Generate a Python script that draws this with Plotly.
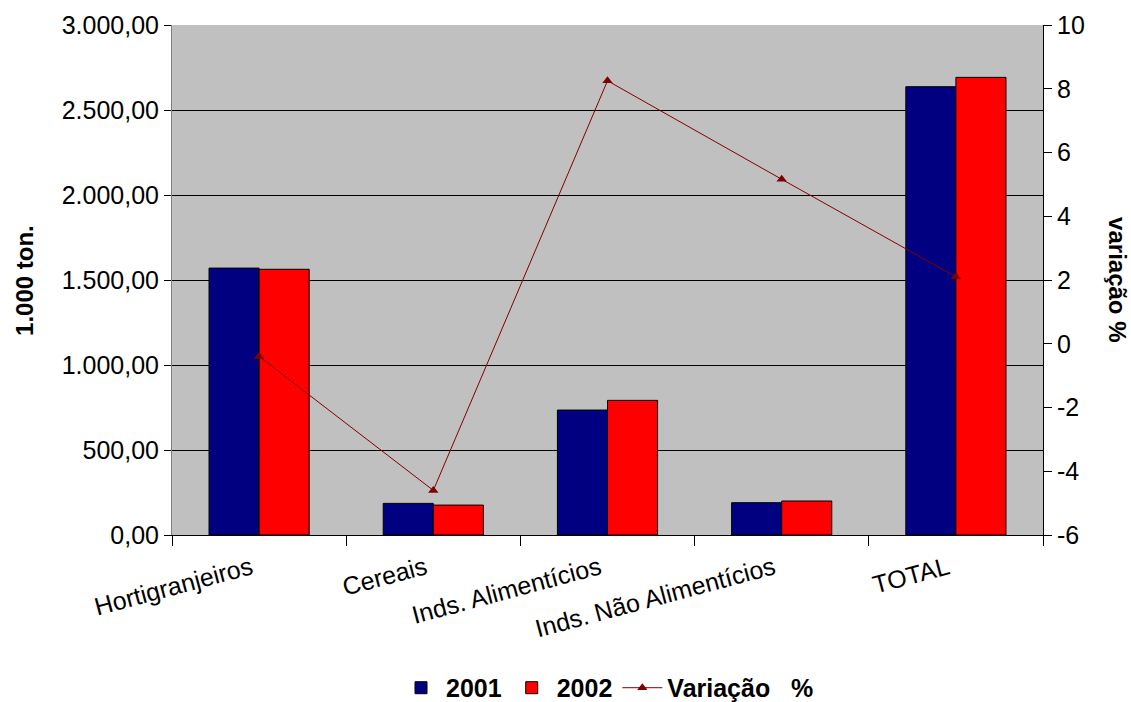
import plotly.graph_objects as go

categories = ["Hortigranjeiros", "Cereais", "Inds. Alimentícios", "Inds. Não Alimentícios", "TOTAL"]
values_2001 = [1570, 186, 735, 190, 2637]
values_2002 = [1563, 176, 792, 200, 2692]
variacao = [-0.4, -4.6, 8.25, 5.16, 2.1]
left_ticks = [0, 500, 1000, 1500, 2000, 2500, 3000]
right_ticks = [-6, -4, -2, 0, 2, 4, 6, 8, 10]
right_tick_labels = ["-6", "-4", "-2", "0", "2", "4", "6", "8", "10"]

FONT = "Liberation Sans, Arial, sans-serif"

fig = go.Figure()
fig.add_trace(go.Bar(name="2001", x=categories, y=values_2001,
                     marker=dict(color="#000080", line=dict(color="black", width=1))))
fig.add_trace(go.Bar(name="2002", x=categories, y=values_2002,
                     marker=dict(color="#FF0000", line=dict(color="black", width=1))))
fig.add_trace(go.Scatter(name="Variação\u00a0\u00a0\u00a0%", x=categories, y=variacao, yaxis="y2",
                         mode="lines+markers",
                         line=dict(color="#800000", width=1),
                         marker=dict(symbol="triangle-up", size=9, color="#800000")))

fig.update_layout(
    width=1131, height=702,
    margin=dict(l=172, r=88, t=25, b=167, autoexpand=False),
    paper_bgcolor="white", plot_bgcolor="#C0C0C0",
    barmode="group", bargap=0.425, bargroupgap=0,
    separators=",.",
    font=dict(family=FONT, size=25, color="black"),
    showlegend=True,
    legend=dict(orientation="h", x=0.5, xanchor="center", yref="container", y=0.02,
                yanchor="middle",
                font=dict(family=FONT, size=25, weight="bold", color="black"),
                itemwidth=40, bgcolor="rgba(0,0,0,0)"),
    xaxis=dict(type="category", tickangle=-15, ticks="outside", tickson="boundaries",
               ticklen=10, tickcolor="black", showline=True, linecolor="black", linewidth=1,
               showgrid=False, tickfont=dict(size=25), automargin=False,
               ticklabelstandoff=8, ticklabelshift=-8),
    yaxis=dict(range=[0, 3000], tickvals=left_ticks, tickformat=",.2f",
               showgrid=True, gridcolor="black", gridwidth=1,
               showline=True, linecolor="#808080", linewidth=1,
               ticks="outside", ticklen=7, tickcolor="black", zeroline=False,
               tickfont=dict(size=25), automargin=False),
    yaxis2=dict(range=[-6, 10], tickvals=right_ticks, ticktext=right_tick_labels,
                overlaying="y", side="right", showgrid=False, zeroline=False,
                showline=True, linecolor="black", linewidth=1,
                ticks="outside", ticklen=8, tickcolor="black", tickfont=dict(size=25),
                automargin=False),
    annotations=[
        dict(text="<b>1.000 ton.</b>", xref="paper", yref="paper", x=-0.17, y=0.5,
             textangle=-90, showarrow=False, xanchor="center", yanchor="middle",
             font=dict(family=FONT, size=24, color="black")),
        dict(text="<b>variação %</b>", xref="paper", yref="paper", x=1.086, y=0.5,
             textangle=90, showarrow=False, xanchor="center", yanchor="middle",
             font=dict(family=FONT, size=24, color="black")),
    ],
)

fig.write_html("out.html", config={"displayModeBar": False},
               post_script="document.body.style.margin='0';")
